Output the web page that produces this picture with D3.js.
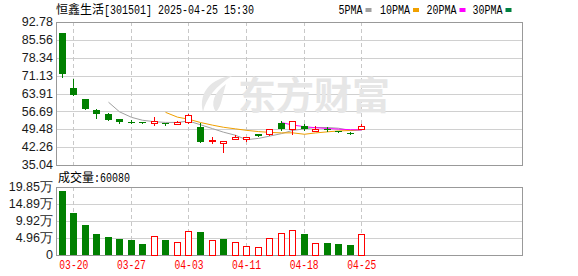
<!DOCTYPE html>
<html><head><meta charset="utf-8">
<script src="https://cdn.jsdelivr.net/npm/d3@7"></script>
<style>html,body{margin:0;padding:0;background:#fff;}svg{display:block;}</style>
</head><body><div id="chart"></div>
<script>
const dates = ["03-19","03-20","03-21","03-24","03-25","03-26","03-27","03-28","03-31","04-01","04-02","04-03","04-07","04-08","04-09","04-10","04-11","04-14","04-15","04-16","04-17","04-18","04-21","04-22","04-23","04-24","04-25"];
const openP  = [88.34,66.13,61.69,57.25,55.51,53.61,52.50,52.40,51.88,52.00,51.47,52.40,50.50,45.00,44.04,45.66,45.40,47.63,47.50,52.00,49.45,50.91,48.77,49.60,48.64,48.10,49.45];
const highP  = [88.34,69.76,61.69,57.65,56.03,53.61,53.30,52.40,54.30,52.20,52.80,55.63,51.87,46.40,44.60,47.03,46.25,47.63,49.45,52.68,52.68,51.59,50.66,50.38,48.64,48.40,51.59];
const lowP   = [70.70,63.42,57.77,54.14,53.21,52.12,51.90,51.90,51.31,51.30,51.47,52.20,44.33,43.80,40.17,45.66,44.85,46.94,47.03,49.17,47.43,49.30,48.77,48.64,48.30,47.50,49.45];
const closeP = [71.90,63.42,57.77,55.63,53.21,52.52,52.30,51.90,52.68,51.80,52.40,55.23,44.33,45.10,44.60,46.20,46.25,46.94,49.45,49.70,52.68,49.45,49.70,49.30,48.30,47.90,50.66];
const ma5  = [null,null,null,null,60.39,56.51,54.29,53.11,52.52,52.24,52.22,52.80,51.29,49.73,48.29,47.05,45.26,45.78,46.69,47.71,49.00,49.64,50.20,50.17,49.89,48.93,49.17];
const ma10 = [null,null,null,null,null,null,null,null,null,56.31,54.36,53.54,52.20,51.13,50.27,49.63,49.03,48.53,48.21,48.00,48.03,47.45,47.99,48.43,48.80,48.97,49.41];
const ma20 = [null,null,null,null,null,null,null,null,null,null,null,null,null,null,null,null,null,null,null,52.16,51.20,50.50,50.09,49.78,49.53,49.30,49.22];
const volume = [18.77,12.26,8.76,6.13,5.35,4.67,4.38,3.21,5.55,4.38,3.70,7.00,6.71,4.38,4.67,3.70,2.63,2.24,4.96,6.42,7.30,6.23,3.50,3.60,3.30,3.00,6.008];
const volUp = [0,0,0,0,0,0,0,0,1,0,1,1,0,1,0,1,1,1,1,1,1,0,1,0,0,0,1];
const priceTicks = [92.78,85.56,78.34,71.13,63.91,56.69,49.48,42.26,35.04];
const volTicks = [19.85,14.89,9.92,4.96,0];
const volTickLabels = ["19.85万","14.89万","9.92万","4.96万","0"];
const labelIdx = [1,6,11,16,21,26];
const legendNames = ["5PMA","10PMA","20PMA","30PMA"];
const legendColors = ["#a0a0a0","#f0a000","#ff00ff","#008040"];
const title = "恒鑫生活";
const titleCode = "[301501] 2025-04-25 15:30";
const volLabel = "成交量";
const volLastText = ":60080";

const W = 578, H = 276;
const L = 56, R = 522, pT = 22, pB = 165, vT = 187, vB = 255;
const RED = "#ff0000", GREEN = "#008000";
const CJK = "'Noto Sans CJK SC', sans-serif";
const MONO = "'Liberation Mono', monospace";
const SANS = "'Liberation Sans', Arial, sans-serif";

const svg = d3.select("#chart").append("svg").attr("width", W).attr("height", H);

const slots = 40;
const x = d3.scaleBand().domain(d3.range(slots)).range([L, L + slots * 11.52]).padding(0);
const cx = i => Math.round(x(i) + x.bandwidth() / 2);
const y = d3.scaleLinear().domain([35.04, 92.78]).range([pB, pT]);
const yv = d3.scaleLinear().domain([0, 19.85]).range([vB, vT]);
const snap = v => Math.round(v) + 0.5;

// grids
const g = svg.append("g").attr("shape-rendering", "crispEdges");
g.selectAll(".hp").data(priceTicks).join("line")
  .attr("x1", L).attr("x2", R).attr("y1", d => snap(y(d))).attr("y2", d => snap(y(d)))
  .attr("stroke", "#d0d0d0");
g.selectAll(".hv").data(volTicks).join("line")
  .attr("x1", L).attr("x2", R).attr("y1", d => snap(yv(d))).attr("y2", d => snap(yv(d)))
  .attr("stroke", "#d0d0d0");
g.selectAll(".vp").data(labelIdx).join("line")
  .attr("x1", d => cx(d) + 0.5).attr("x2", d => cx(d) + 0.5).attr("y1", pT).attr("y2", pB)
  .attr("stroke", "#c8c8c8").attr("stroke-dasharray", "4,3");
g.selectAll(".vv").data(labelIdx).join("line")
  .attr("x1", d => cx(d) + 0.5).attr("x2", d => cx(d) + 0.5).attr("y1", vT).attr("y2", vB)
  .attr("stroke", "#c8c8c8").attr("stroke-dasharray", "4,3");

// watermark
const wm = svg.append("g").attr("fill", "#e6e6e6");
wm.append("path").attr("d", "M232,76 C212,78 198,92 203,112 C206,98 216,86 232,76 Z");
wm.append("path").attr("d", "M226,84 C214,92 210,104 216,112 C222,106 222,96 226,84 Z");
wm.append("text").attr("x", 238).attr("y", 109).attr("font-family", CJK)
  .attr("font-weight", 700).attr("font-size", 38).text("东方财富");

// frames
g.append("rect").attr("x", L + 0.5).attr("y", pT + 0.5).attr("width", R - L).attr("height", pB - pT)
  .attr("fill", "none").attr("stroke", "#999");
g.append("rect").attr("x", L + 0.5).attr("y", vT + 0.5).attr("width", R - L).attr("height", vB - vT)
  .attr("fill", "none").attr("stroke", "#999");

// MA lines
const maLine = d3.line().defined(d => d.v != null).x(d => cx(d.i) + 0.5).y(d => y(d.v));
[[ma5, legendColors[0]], [ma10, legendColors[1]], [ma20, legendColors[2]]].forEach(([arr, col]) => {
  svg.append("path").datum(arr.map((v, i) => ({ i, v })))
    .attr("d", maLine).attr("fill", "none").attr("stroke", col).attr("stroke-width", 1);
});

// candles
const cg = svg.append("g").attr("shape-rendering", "crispEdges");
const idx = d3.range(dates.length);
idx.forEach(i => {
  const up = closeP[i] >= openP[i];
  const col = up ? RED : GREEN;
  const c = cx(i);
  cg.append("line").attr("x1", c + 0.5).attr("x2", c + 0.5)
    .attr("y1", Math.round(y(highP[i]))).attr("y2", Math.round(y(lowP[i])) + 1).attr("stroke", col);
  const top = Math.round(y(Math.max(openP[i], closeP[i])));
  const bot = Math.round(y(Math.min(openP[i], closeP[i])));
  if (up) {
    const h = Math.max(1, bot - top);
    cg.append("rect").attr("x", c - 2.5).attr("y", top + 0.5).attr("width", 6).attr("height", h)
      .attr("fill", "#fff").attr("stroke", col);
  } else {
    const h = Math.max(1, bot - top);
    cg.append("rect").attr("x", c - 3).attr("y", top).attr("width", 7).attr("height", h).attr("fill", col);
  }
});

// volume bars
idx.forEach(i => {
  const c = cx(i);
  const top = Math.round(yv(volume[i]));
  if (volUp[i]) {
    cg.append("rect").attr("x", c - 2.5).attr("y", top + 0.5).attr("width", 6).attr("height", vB - top - 0.5)
      .attr("fill", "#fff").attr("stroke", RED);
  } else {
    cg.append("rect").attr("x", c - 3).attr("y", top).attr("width", 7).attr("height", vB - top).attr("fill", GREEN);
  }
});

// y axes
const ya = svg.append("g").attr("transform", `translate(${L - 3},0)`)
  .call(d3.axisLeft(y).tickValues(priceTicks).tickFormat(d3.format(".2f")).tickSize(0).tickPadding(0));
ya.select(".domain").remove();
ya.selectAll("text").attr("font-family", SANS).attr("font-size", 12.5).attr("fill", "#1a1a1a").attr("dy", "0.3em");
const yva = svg.append("g").attr("transform", `translate(${L - 3},0)`)
  .call(d3.axisLeft(yv).tickValues(volTicks).tickFormat((d, k) => volTickLabels[k]).tickSize(0).tickPadding(0));
yva.select(".domain").remove();
yva.selectAll("text").attr("font-family", SANS).attr("font-size", 12.5).attr("fill", "#1a1a1a").attr("dy", "0.3em");

// x axis labels
const xa = svg.append("g").attr("transform", `translate(0.5,${vB})`)
  .call(d3.axisBottom(x).tickValues(labelIdx).tickFormat(i => dates[i]).tickSize(0).tickPadding(0));
xa.select(".domain").remove();
xa.selectAll("text").attr("font-family", MONO).attr("font-size", 12).attr("fill", RED)
  .attr("y", 14).attr("dy", 0).attr("textLength", 29).attr("lengthAdjust", "spacingAndGlyphs");

// title
svg.append("text").attr("x", 56).attr("y", 14).attr("font-family", CJK).attr("font-size", 12).attr("fill", "#000").text(title);
svg.append("text").attr("x", 104).attr("y", 14).attr("font-family", MONO).attr("font-size", 12).attr("fill", "#000")
  .attr("textLength", 150).attr("lengthAdjust", "spacingAndGlyphs").text(titleCode);

// legend
const legX = [338.5, 380, 426.5, 472.5];
legendNames.forEach((n, k) => {
  svg.append("text").attr("x", legX[k]).attr("y", 13.5).attr("font-family", MONO).attr("font-size", 12)
    .attr("fill", "#000").attr("textLength", n.length * 6).attr("lengthAdjust", "spacingAndGlyphs").text(n);
  svg.append("rect").attr("x", legX[k] + n.length * 6 + 3).attr("y", 8).attr("width", 6).attr("height", 4)
    .attr("fill", legendColors[k]);
});

// volume label
svg.append("text").attr("x", 58).attr("y", 181.5).attr("font-family", CJK).attr("font-size", 12).attr("fill", "#000").text(volLabel);
svg.append("text").attr("x", 94).attr("y", 181.5).attr("font-family", MONO).attr("font-size", 12).attr("fill", "#000")
  .attr("textLength", 36).attr("lengthAdjust", "spacingAndGlyphs").text(volLastText);
</script></body></html>
